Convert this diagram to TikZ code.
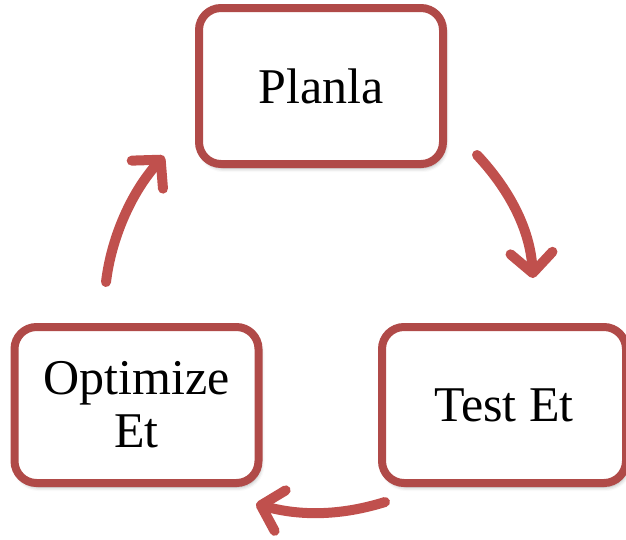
\documentclass[tikz,border=0pt]{standalone}
\usepackage{fontspec}
\setmainfont{Liberation Serif}
\usetikzlibrary{arrows.meta,shadows.blur}
\definecolor{boxred}{HTML}{B04A48}
\definecolor{arrowred}{HTML}{C0504D}
\tikzset{
  stepbox/.style={draw=boxred, line width=8pt, fill=white, rounded corners=22pt,
    minimum width=244pt, minimum height=156pt, align=center, inner sep=0pt,
    font=\fontsize{50}{53}\selectfont,
    blur shadow={shadow xshift=2pt, shadow yshift=-4pt, shadow blur radius=4pt, shadow opacity=35}},
  cyclearrow/.style={draw=arrowred, line width=10pt, line cap=round,
    -{Straight Barb[length=20pt, width=42pt, round]}}
}
\begin{document}
\begin{tikzpicture}[x=1pt, y=-1pt]
  \useasboundingbox (0,0) rectangle (626,539);
  \begin{scope}
    \clip (0,0) rectangle (626,539);
    % the three stages of the cycle
    \node[stepbox] (plan) at (321,86) {Planla};
    \node[stepbox] (opt)  at (136.5,405) {Optimize\\Et};
    \node[stepbox] (test) at (504,405) {Test Et};
    % free ends of the curved arrows
    \coordinate (a1) at (477,155);
    \coordinate (b1) at (533,278);
    \coordinate (a2) at (385,502);
    \coordinate (b2) at (256,504);
    \coordinate (a3) at (106,282);
    \coordinate (b3) at (164,156);
    \draw[cyclearrow] (a1) .. controls (508,188) and (530,228) .. (b1);
    \draw[cyclearrow] (a2) .. controls (340,516) and (300,516) .. (b2);
    \draw[cyclearrow] (a3) .. controls (111,240) and (130,194) .. (b3);
  \end{scope}
\end{tikzpicture}
\end{document}
